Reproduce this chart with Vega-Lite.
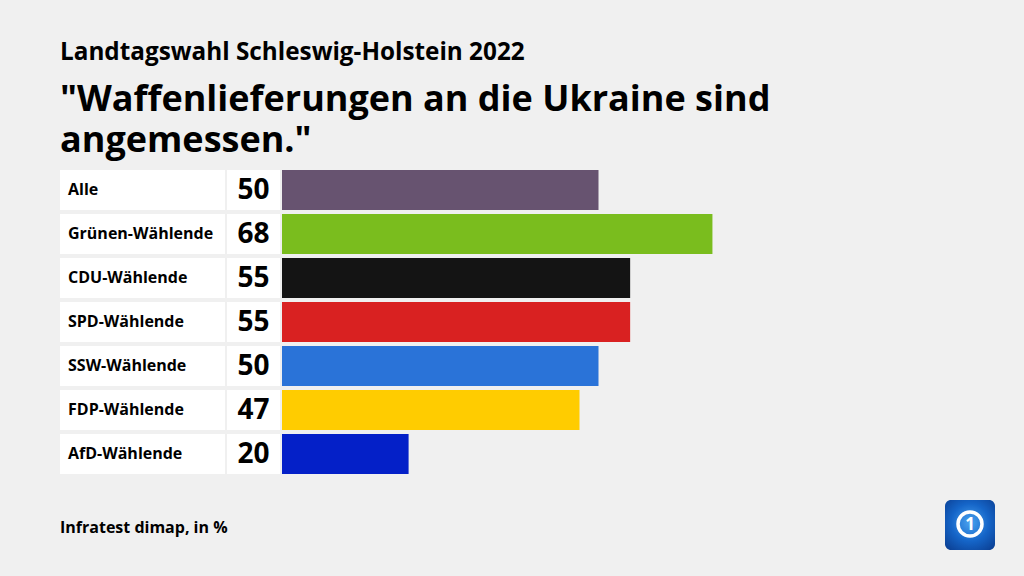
{
  "$schema": "https://vega.github.io/schema/vega-lite/v6.json",
  "background": "#f0f0f0",
  "padding": {"left": 60, "top": 40, "right": 29, "bottom": 26},
  "config": {
    "view": {"stroke": null},
    "font": "Open Sans",
    "text": {"font": "Open Sans"}
  },
  "datasets": {
    "rows": [
      {"group": "Alle", "value": 50},
      {"group": "Grünen-Wählende", "value": 68},
      {"group": "CDU-Wählende", "value": 55},
      {"group": "SPD-Wählende", "value": 55},
      {"group": "SSW-Wählende", "value": 50},
      {"group": "FDP-Wählende", "value": 47},
      {"group": "AfD-Wählende", "value": 20}
    ]
  },
  "title": {
    "text": "Landtagswahl Schleswig-Holstein 2022",
    "subtitle": ["\"Waffenlieferungen an die Ukraine sind", "angemessen.\""],
    "anchor": "start",
    "font": "Open Sans",
    "fontSize": 24.3,
    "fontWeight": "bold",
    "color": "#000000",
    "subtitleFont": "Open Sans",
    "subtitleFontSize": 36,
    "subtitleFontWeight": "bold",
    "subtitleColor": "#000000",
    "subtitleLineHeight": 41,
    "subtitlePadding": 18,
    "offset": 11
  },
  "vconcat": [
    {
      "hconcat": [
        {
          "width": 165,
          "height": 304,
          "data": {"name": "rows"},
          "encoding": {
            "y": {"field": "group", "type": "nominal", "sort": null, "axis": null,
                  "scale": {"paddingInner": 0.0909, "paddingOuter": 0}}
          },
          "layer": [
            {"mark": {"type": "rect", "color": "#ffffff", "x": 0, "x2": "width"}},
            {"mark": {"type": "text", "align": "left", "baseline": "middle", "x": 8, "fontSize": 16, "fontWeight": "bold", "color": "#000000"},
             "encoding": {"text": {"field": "group"}}}
          ]
        },
        {
          "width": 53,
          "height": 304,
          "data": {"name": "rows"},
          "encoding": {
            "y": {"field": "group", "type": "nominal", "sort": null, "axis": null,
                  "scale": {"paddingInner": 0.0909, "paddingOuter": 0}}
          },
          "layer": [
            {"mark": {"type": "rect", "color": "#ffffff", "x": 0, "x2": "width"}},
            {"mark": {"type": "text", "align": "center", "baseline": "middle", "fontSize": 28, "fontWeight": "bold", "color": "#000000", "dy": 1},
             "encoding": {"text": {"field": "value", "type": "quantitative"}}}
          ]
        },
        {
          "width": 633,
          "height": 304,
          "data": {"name": "rows"},
          "mark": {"type": "bar", "cornerRadius": 0},
          "encoding": {
            "y": {"field": "group", "type": "nominal", "sort": null, "axis": null,
                  "scale": {"paddingInner": 0.0909, "paddingOuter": 0}},
            "x": {"field": "value", "type": "quantitative", "axis": null,
                  "scale": {"domain": [0, 100], "nice": false, "zero": true}},
            "color": {"field": "group", "type": "nominal", "legend": null,
                      "scale": {"domain": ["Alle", "Grünen-Wählende", "CDU-Wählende", "SPD-Wählende", "SSW-Wählende", "FDP-Wählende", "AfD-Wählende"],
                                "range": ["#675370", "#7abd1e", "#141414", "#d92121", "#2a73d8", "#ffcc00", "#0420c8"]}}
          }
        }
      ],
      "spacing": 2
    },
    {
      "hconcat": [
        {
          "width": 875,
          "height": 50,
          "data": {"values": [{"source": "Infratest dimap, in %"}]},
          "mark": {"type": "text", "align": "left", "baseline": "middle", "x": 0, "dy": 3, "fontSize": 16, "fontWeight": "bold", "color": "#000000"},
          "encoding": {"text": {"field": "source"}}
        },
        {
          "width": 50,
          "height": 50,
          "data": {"values": [{"logo": "1"}]},
          "layer": [
            {"mark": {"type": "rect", "x": 0, "x2": "width", "y": 0, "y2": "height", "cornerRadius": 6,
                      "color": {"gradient": "radial", "x1": 0.5, "y1": 0.45, "x2": 0.5, "y2": 0.45, "r1": 0, "r2": 0.75,
                                "stops": [{"offset": 0, "color": "#4aa3f0"}, {"offset": 0.5, "color": "#1565c8"}, {"offset": 1, "color": "#0a3a8c"}]}}},
            {"mark": {"type": "point", "shape": "circle", "size": 576, "filled": false, "stroke": "#ffffff", "strokeWidth": 3.5, "opacity": 1, "yOffset": -1}},
            {"mark": {"type": "text", "align": "center", "baseline": "middle", "fontSize": 17, "fontWeight": "bold", "color": "#ffffff", "dy": 0},
             "encoding": {"text": {"field": "logo"}}}
          ]
        }
      ],
      "spacing": 10
    }
  ],
  "spacing": 26
}
